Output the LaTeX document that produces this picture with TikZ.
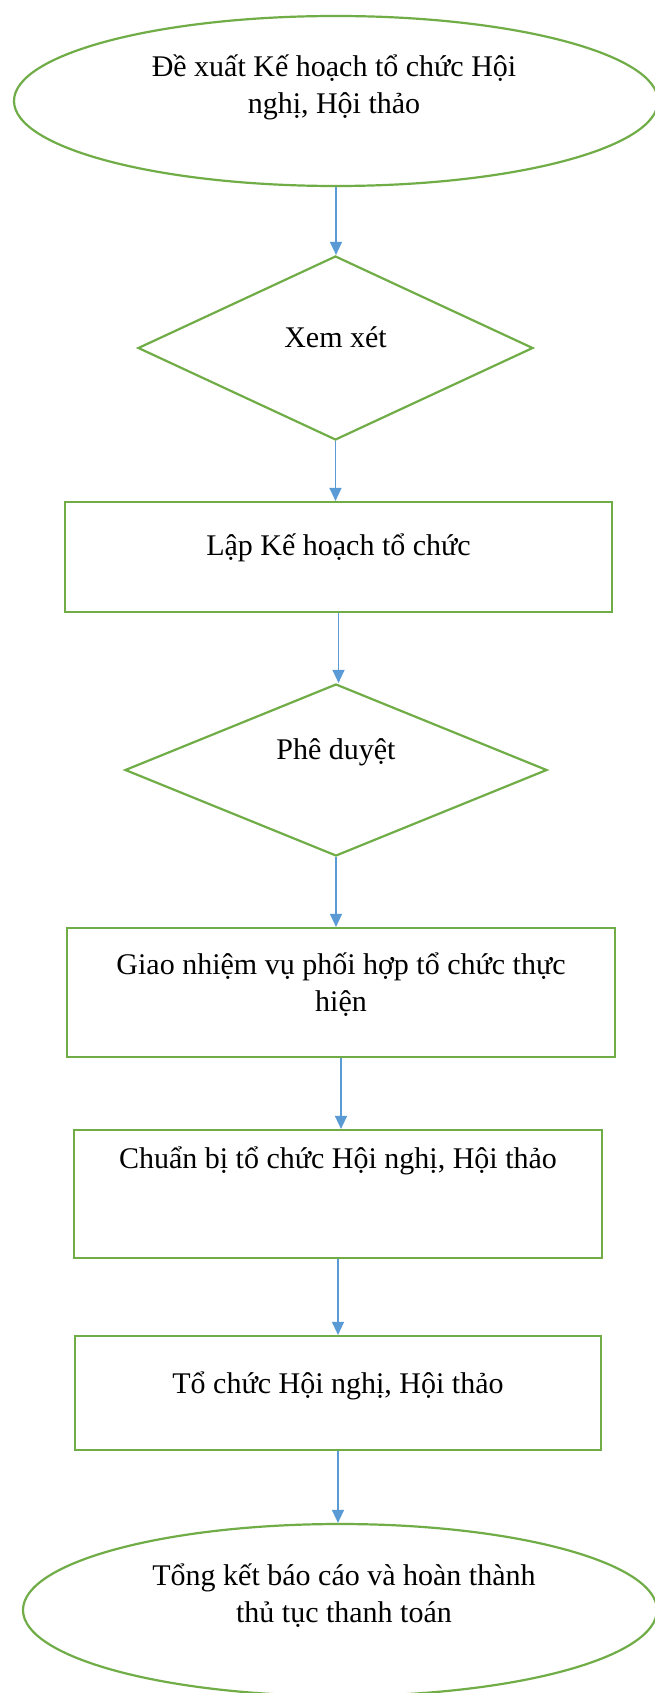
\documentclass[tikz,border=0pt]{standalone}
\usepackage{fontspec}
\setmainfont{Liberation Serif}
\usetikzlibrary{shapes.geometric,arrows.meta}
\definecolor{boxgreen}{HTML}{70AD47}
\definecolor{arrowblue}{HTML}{5B9BD5}
\newcommand\lnstrut{\rule[-8pt]{0pt}{36pt}}
\begin{document}
\begin{tikzpicture}[x=1pt,y=-1pt,
  shapebox/.style={draw=boxgreen, line width=2.2pt, inner sep=0pt, fill=white},
  txt/.style={font=\fontsize{30}{37}\selectfont, align=center, inner sep=0pt, anchor=north},
  flow/.style={draw=arrowblue, line width=1.3pt, -{Triangle[length=13pt,width=12pt]}}]
\useasboundingbox[fill=white] (0,0) rectangle (654,1693);
% shapes
\node[shapebox, ellipse, minimum width=644pt, minimum height=170pt] (e1) at (336,101) {};
\node[shapebox, diamond, minimum width=395pt, minimum height=184pt] (d1) at (335.5,348) {};
\node[shapebox, rectangle, minimum width=547pt, minimum height=110pt] (r1) at (338.5,557) {};
\node[shapebox, diamond, minimum width=422pt, minimum height=172pt] (d2) at (336,770) {};
\node[shapebox, rectangle, minimum width=548pt, minimum height=129pt] (r2) at (341,992.5) {};
\node[shapebox, rectangle, minimum width=528pt, minimum height=128pt] (r3) at (338,1194) {};
\node[shapebox, rectangle, minimum width=526pt, minimum height=114pt] (r4) at (338,1393) {};
\node[shapebox, ellipse, minimum width=634pt, minimum height=172pt] (e2) at (340,1610) {};
% texts
\node[txt] (t1) at (334,48) {\lnstrut Đề xuất Kế hoạch tổ chức Hội\\\lnstrut nghị, Hội thảo};
\node[txt] (t2) at (335.5,319) {\lnstrut Xem xét};
\node[txt] (t3) at (338.5,527) {\lnstrut Lập Kế hoạch tổ chức};
\node[txt] (t4) at (336,731) {\lnstrut Phê duyệt};
\node[txt] (t5) at (341,946) {\lnstrut Giao nhiệm vụ phối hợp tổ chức thực\\\lnstrut hiện};
\node[txt] (t6) at (338,1140) {\lnstrut Chuẩn bị tổ chức Hội nghị, Hội thảo};
\node[txt] (t7) at (338,1365) {\lnstrut Tổ chức Hội nghị, Hội thảo};
\node[txt] (t8) at (344,1557) {\lnstrut Tổng kết báo cáo và hoàn thành\\\lnstrut thủ tục thanh toán};
% connectors
\draw[flow] (e1.south) -- (e1.south |- d1.north);
\draw[flow] (d1.south) -- (d1.south |- r1.north);
\draw[flow] (r1.south) -- (r1.south |- d2.north);
\draw[flow] (d2.south) -- (d2.south |- r2.north);
\draw[flow] (r2.south) -- (r2.south |- r3.north);
\draw[flow] (r3.south) -- (r3.south |- r4.north);
\draw[flow] (r4.south) -- (r4.south |- e2.north);
\end{tikzpicture}
\end{document}
